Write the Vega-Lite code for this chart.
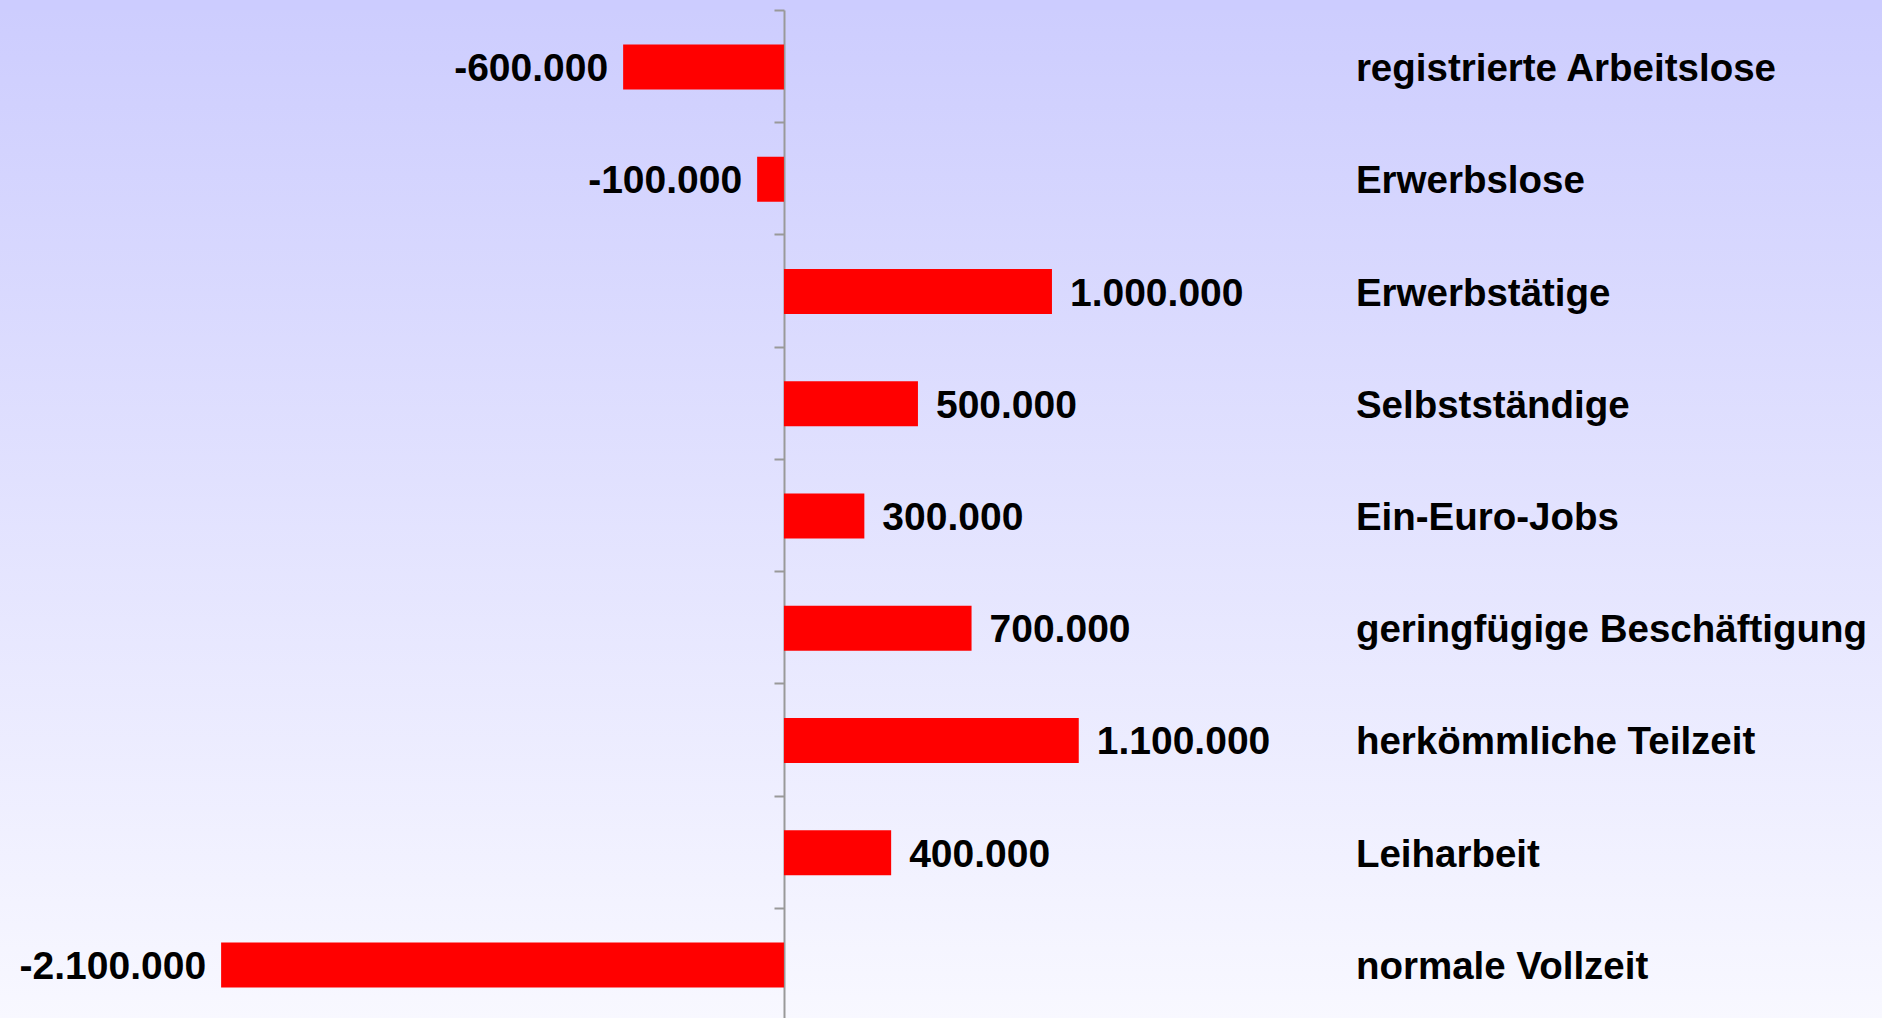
{
  "$schema": "https://vega.github.io/schema/vega-lite/v6.json",
  "width": 1882,
  "height": 1010,
  "autosize": {"type": "none"},
  "padding": {"top": 10, "left": 0, "right": 0, "bottom": 0},
  "background": "#CCCCFF",
  "config": {
    "view": {
      "stroke": null,
      "fill": {
        "gradient": "linear",
        "x1": 0, "y1": 0, "x2": 0, "y2": 1,
        "stops": [
          {"offset": 0, "color": "#CDCDFE"},
          {"offset": 1, "color": "#F8F8FF"}
        ]
      }
    },
    "font": "Liberation Sans"
  },
  "data": {
    "values": [
      {"category": "registrierte Arbeitslose", "value": -600000, "label": "-600.000"},
      {"category": "Erwerbslose", "value": -100000, "label": "-100.000"},
      {"category": "Erwerbstätige", "value": 1000000, "label": "1.000.000"},
      {"category": "Selbstständige", "value": 500000, "label": "500.000"},
      {"category": "Ein-Euro-Jobs", "value": 300000, "label": "300.000"},
      {"category": "geringfügige Beschäftigung", "value": 700000, "label": "700.000"},
      {"category": "herkömmliche Teilzeit", "value": 1100000, "label": "1.100.000"},
      {"category": "Leiharbeit", "value": 400000, "label": "400.000"},
      {"category": "normale Vollzeit", "value": -2100000, "label": "-2.100.000"}
    ]
  },
  "encoding": {
    "y": {
      "field": "category",
      "type": "nominal",
      "sort": null,
      "scale": {"paddingInner": 0, "paddingOuter": 0},
      "axis": {
        "orient": "left",
        "offset": -784,
        "title": null,
        "labels": false,
        "grid": false,
        "tickBand": "extent",
        "domainColor": "#999999",
        "domainWidth": 2,
        "tickColor": "#999999",
        "tickWidth": 2,
        "tickSize": 10
      }
    }
  },
  "layer": [
    {
      "mark": {"type": "bar", "size": 45, "color": "#FF0000", "yOffset": 1},
      "encoding": {
        "x": {
          "field": "value",
          "type": "quantitative",
          "scale": {"domain": [-2925000, 4097000], "nice": false, "zero": false},
          "axis": null
        }
      }
    },
    {
      "transform": [{"filter": "datum.value < 0"}],
      "mark": {"type": "text", "align": "right", "baseline": "middle", "dx": -15, "dy": 3, "fontSize": 39, "fontWeight": "bold", "color": "#000000"},
      "encoding": {
        "x": {"field": "value", "type": "quantitative"},
        "text": {"field": "label"}
      }
    },
    {
      "transform": [{"filter": "datum.value >= 0"}],
      "mark": {"type": "text", "align": "left", "baseline": "middle", "dx": 18, "dy": 3, "fontSize": 39, "fontWeight": "bold", "color": "#000000"},
      "encoding": {
        "x": {"field": "value", "type": "quantitative"},
        "text": {"field": "label"}
      }
    },
    {
      "mark": {"type": "text", "align": "left", "baseline": "middle", "dy": 3, "fontSize": 38.5, "fontWeight": "bold", "color": "#000000"},
      "encoding": {
        "x": {"datum": 2134000, "type": "quantitative"},
        "text": {"field": "category"}
      }
    }
  ]
}
